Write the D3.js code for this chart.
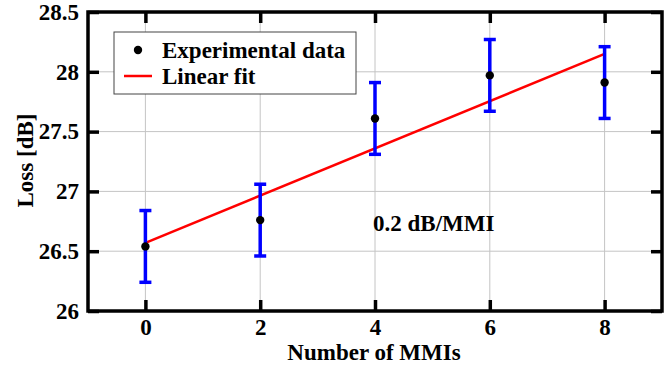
<!DOCTYPE html>
<html>
<head>
<meta charset="utf-8">
<script src="https://cdn.jsdelivr.net/npm/d3@7"></script>
<style>
  body { margin: 0; background: #fff; }
  text { font-family: "Liberation Serif", "Times New Roman", serif; font-weight: bold; }
</style>
</head>
<body>
<div id="chart"></div>
<script>
const mmis = [0, 2, 4, 6, 8];
const loss = [26.54, 26.76, 27.61, 27.97, 27.91];
const lossErr = [0.3, 0.3, 0.3, 0.3, 0.3];
const fitX = [0, 8];
const fitY = [26.57, 28.15];
const xTicks = [0, 2, 4, 6, 8];
const yTicks = [26, 26.5, 27, 27.5, 28, 28.5];

const W = 666, H = 367;
const margin = { top: 12, right: 4, bottom: 56, left: 88 };
const width = W - margin.left - margin.right,
  height = H - margin.top - margin.bottom;
const fs = "23px";

const svg = d3.select("#chart").append("svg")
  .attr("width", W)
  .attr("height", H)
  .append("g")
  .attr("transform", "translate(" + margin.left + "," + margin.top + ")");

const x = d3.scaleLinear().domain([-1, 9]).range([0, width]);
const y = d3.scaleLinear().domain([26, 28.5]).range([height, 0]);

// grid
svg.append("g").selectAll("line")
  .data(xTicks)
  .enter().append("line")
  .attr("x1", d => x(d)).attr("x2", d => x(d))
  .attr("y1", 0).attr("y2", height)
  .attr("stroke", "#c4c4c4").attr("stroke-width", 1);
svg.append("g").selectAll("line")
  .data(yTicks.slice(1, -1))
  .enter().append("line")
  .attr("x1", 0).attr("x2", width)
  .attr("y1", d => y(d)).attr("y2", d => y(d))
  .attr("stroke", "#c4c4c4").attr("stroke-width", 1);

// axes (ticks inward, mirrored)
const tickLen = 11;
const styleAxis = g => {
  g.select(".domain").remove();
  g.selectAll(".tick line").attr("stroke", "#000").attr("stroke-width", 3.5);
  g.selectAll(".tick text").attr("fill", "#000").style("font-size", fs);
};
svg.append("g")
  .attr("transform", "translate(0," + height + ")")
  .call(d3.axisBottom(x).tickValues(xTicks).tickSize(-tickLen).tickPadding(8))
  .call(styleAxis);
svg.append("g")
  .call(d3.axisTop(x).tickValues(xTicks).tickSize(-tickLen).tickFormat(""))
  .call(styleAxis);
svg.append("g")
  .call(d3.axisLeft(y).tickValues(yTicks).tickSize(-tickLen).tickPadding(9).tickFormat(d3.format("")))
  .call(styleAxis);
svg.append("g")
  .attr("transform", "translate(" + width + ",0)")
  .call(d3.axisRight(y).tickValues(yTicks).tickSize(-tickLen).tickFormat(""))
  .call(styleAxis);

// frame
svg.append("rect")
  .attr("width", width).attr("height", height)
  .attr("fill", "none").attr("stroke", "#000").attr("stroke-width", 3.5);

// fit line
svg.append("path")
  .datum(d3.zip(fitX, fitY))
  .attr("fill", "none").attr("stroke", "#ff0000").attr("stroke-width", 2.5)
  .attr("d", d3.line().x(d => x(d[0])).y(d => y(d[1])));

// error bars
const pts = mmis.map((m, i) => ({ m: m, v: loss[i], e: lossErr[i] }));
const eb = svg.append("g").attr("stroke", "#0000ff").attr("stroke-width", 3.5);
eb.selectAll(".bar").data(pts).enter().append("line")
  .attr("x1", d => x(d.m)).attr("x2", d => x(d.m))
  .attr("y1", d => y(d.v - d.e)).attr("y2", d => y(d.v + d.e));
eb.selectAll(".capT").data(pts).enter().append("line")
  .attr("x1", d => x(d.m) - 6).attr("x2", d => x(d.m) + 6)
  .attr("y1", d => y(d.v + d.e)).attr("y2", d => y(d.v + d.e));
eb.selectAll(".capB").data(pts).enter().append("line")
  .attr("x1", d => x(d.m) - 6).attr("x2", d => x(d.m) + 6)
  .attr("y1", d => y(d.v - d.e)).attr("y2", d => y(d.v - d.e));

// points
svg.append("g").selectAll("circle").data(pts).enter().append("circle")
  .attr("cx", d => x(d.m)).attr("cy", d => y(d.v))
  .attr("r", 4.2).attr("fill", "#000");

// annotation
svg.append("text")
  .attr("x", x(4) - 2).attr("y", y(26.7) + 4)
  .style("font-size", fs)
  .text("0.2 dB/MMI");

// legend
const lg = svg.append("g").attr("transform", "translate(26,20)");
lg.append("rect")
  .attr("width", 242).attr("height", 62)
  .attr("fill", "#fff").attr("stroke", "#444").attr("stroke-width", 1);
lg.append("circle").attr("cx", 24).attr("cy", 18).attr("r", 4.2).attr("fill", "#000");
lg.append("line").attr("x1", 10).attr("x2", 38).attr("y1", 44).attr("y2", 44)
  .attr("stroke", "#ff0000").attr("stroke-width", 2.5);
lg.append("text").attr("x", 48).attr("y", 26).style("font-size", fs).text("Experimental data");
lg.append("text").attr("x", 48).attr("y", 52).style("font-size", fs).text("Linear fit");

// axis titles
svg.append("text")
  .attr("x", width / 2 - 1).attr("y", height + 49)
  .attr("text-anchor", "middle")
  .style("font-size", fs)
  .text("Number of MMIs");
svg.append("text")
  .attr("transform", "rotate(-90)")
  .attr("x", -(160.5 - margin.top)).attr("y", -55)
  .attr("text-anchor", "middle")
  .style("font-size", fs)
  .text("Loss [dB]");
</script>
</body>
</html>
